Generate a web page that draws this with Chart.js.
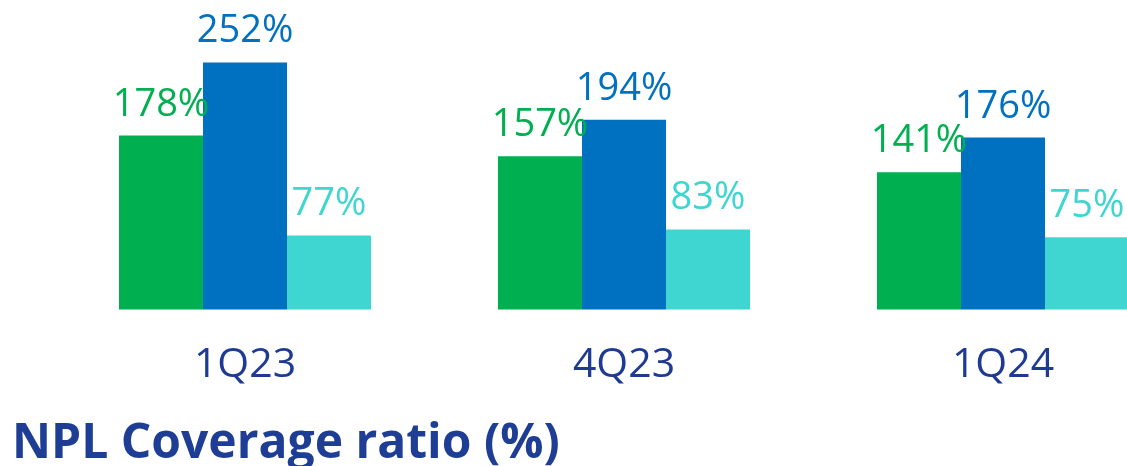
<!DOCTYPE html>
<html>
<head>
<meta charset="utf-8">
<script src="https://cdn.jsdelivr.net/npm/chart.js@4"></script>
<style>
  html, body { margin: 0; padding: 0; background: #fff; overflow: hidden; }
  #wrap { width: 1200px; height: 466px; position: relative; }
</style>
</head>
<body>
<div id="wrap"><canvas id="nplChart"></canvas></div>
<script>
const quarters = ['1Q23', '4Q23', '1Q24'];
const seriesA = [178, 157, 141];
const seriesB = [252, 194, 176];
const seriesC = [77, 83, 75];
const barColors = ['#00B050', '#0070C0', '#3FD6D1'];

// value labels over each bar
const valueLabels = {
    id: 'valueLabels',
    afterDatasetsDraw(chart) {
        const ctx = chart.ctx;
        ctx.save();
        ctx.font = '38px "Open Sans"';
        ctx.textAlign = 'center';
        ctx.textBaseline = 'alphabetic';
        chart.data.datasets.forEach((ds, i) => {
            const meta = chart.getDatasetMeta(i);
            ctx.fillStyle = ds.backgroundColor;
            meta.data.forEach((bar, j) => {
                ctx.fillText(ds.data[j] + '%', bar.x, bar.y - 20);
            });
        });
        ctx.restore();
    }
};

const ctx = document.getElementById('nplChart').getContext('2d');
new Chart(ctx, {
    type: 'bar',
    data: {
        labels: quarters,
        datasets: [
            { data: seriesA, backgroundColor: barColors[0] },
            { data: seriesB, backgroundColor: barColors[1] },
            { data: seriesC, backgroundColor: barColors[2] }
        ]
    },
    options: {
        responsive: true,
        maintainAspectRatio: false,
        animation: false,
        categoryPercentage: 0.665,
        barPercentage: 1,
        layout: {
            padding: { left: 12, right: 7.5, top: 15, bottom: 0 }
        },
        scales: {
            y: {
                min: 2, max: 300,
                grid: { display: false },
                border: { display: false },
                ticks: { display: false },
                afterFit(scale) { scale.width = 43.5; }
            },
            x: {
                grid: { display: false, drawTicks: false },
                border: { display: false },
                ticks: {
                    color: '#1F3A93',
                    font: { family: 'Open Sans', size: 41 },
                    padding: 31
                },
                afterFit(scale) { scale.height = 113.3; }
            }
        },
        plugins: {
            legend: { display: false },
            tooltip: { enabled: false },
            title: {
                display: true,
                text: 'NPL Coverage ratio (%)',
                position: 'bottom',
                align: 'start',
                color: '#1E3D94',
                font: { family: 'Open Sans', size: 48, weight: 'bold', lineHeight: 0.9 },
                padding: { top: 0, bottom: 0 }
            }
        }
    },
    plugins: [valueLabels]
});
</script>
</body>
</html>
